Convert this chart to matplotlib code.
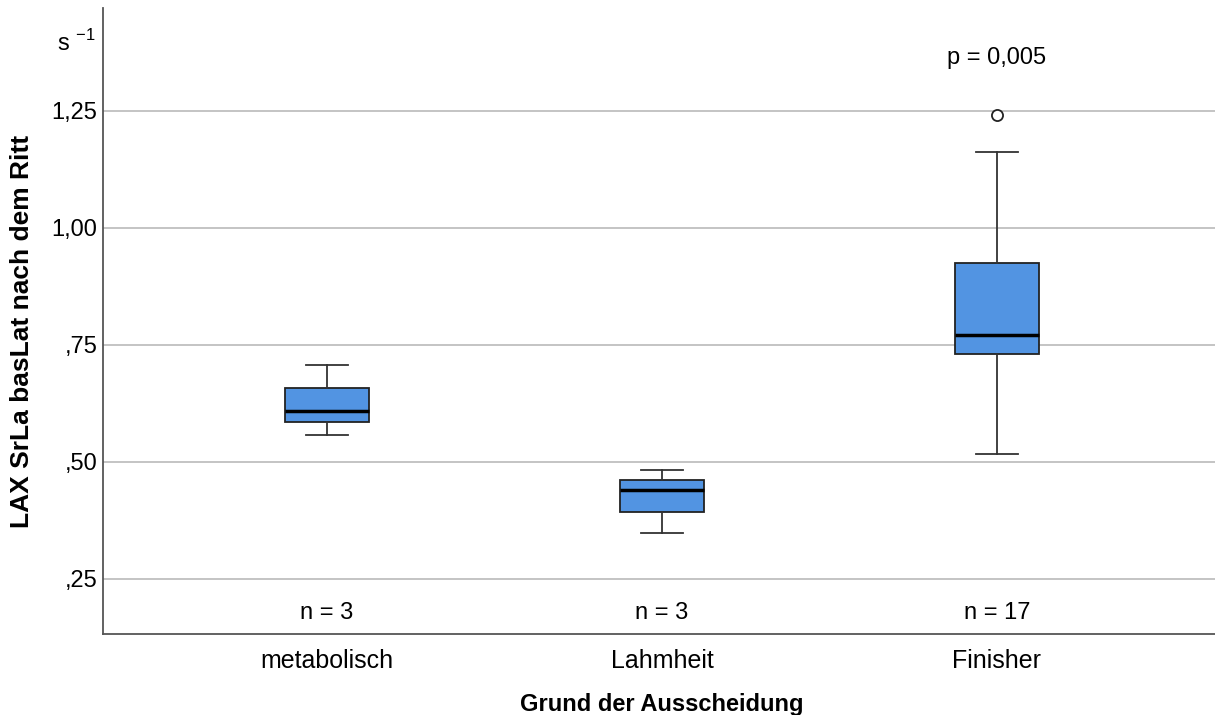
import matplotlib.pyplot as plt

plt.rcParams['font.family'] = ['Liberation Sans', 'DejaVu Sans']
plt.rcParams['mathtext.fontset'] = 'custom'
plt.rcParams['mathtext.rm'] = 'Liberation Sans'

groups = ['metabolisch', 'Lahmheit', 'Finisher']
n_counts = [3, 3, 17]
whislo = [0.558, 0.348, 0.517]
q1 = [0.585, 0.393, 0.731]
med = [0.609, 0.440, 0.771]
q3 = [0.658, 0.462, 0.925]
whishi = [0.707, 0.483, 1.162]
fliers = [[], [], [1.241]]

yticks = [0.25, 0.50, 0.75, 1.00, 1.25]
ytick_labels = [',25', ',50', ',75', '1,00', '1,25']

stats = []
for i, g in enumerate(groups):
    stats.append(dict(label=g, whislo=whislo[i], q1=q1[i], med=med[i],
                      q3=q3[i], whishi=whishi[i], fliers=fliers[i]))

fig = plt.figure(figsize=(12.15, 7.15), dpi=100)
ax = fig.add_axes([0.0848, 0.1133, 0.915, 0.8755])

pos = [1, 2, 3]
ax.bxp(stats, positions=pos, widths=0.25, patch_artist=True,
       boxprops=dict(facecolor='#5294e2', edgecolor='#222222', linewidth=1.3),
       medianprops=dict(color='black', linewidth=2.5),
       whiskerprops=dict(color='#333333', linewidth=1.3),
       capprops=dict(color='#333333', linewidth=1.3),
       capwidths=0.125,
       flierprops=dict(marker='o', markerfacecolor='white', markeredgecolor='#222222',
                       markersize=8, markeredgewidth=1.3),
       zorder=3)

ax.set_xlim(0.331, 3.651)
ax.set_ylim(0.1325, 1.470)
ax.set_yticks(yticks)
ax.set_yticklabels(ytick_labels, fontsize=17)
ax.set_xticks(pos)
ax.set_xticklabels(groups, fontsize=18)
ax.tick_params(axis='y', length=0, pad=4)
ax.tick_params(axis='x', length=0, pad=11)
ax.yaxis.grid(True, color='#c4c4c4', linewidth=1.4)
ax.set_axisbelow(True)

for s in ['top', 'right']:
    ax.spines[s].set_visible(False)
for s in ['left', 'bottom']:
    ax.spines[s].set_color('#555555')
    ax.spines[s].set_linewidth(1.3)

for p, n in zip(pos, n_counts):
    ax.text(p, 0.178, f'n = {n}', ha='center', va='center', fontsize=17)

ax.text(3, 1.363, 'p = 0,005', ha='center', va='center', fontsize=17)
ax.text(-0.007, 1.395, r's $^{-1}$', transform=ax.get_yaxis_transform(),
        ha='right', va='center', fontsize=17)

# axis titles placed in figure coordinates
fig.text(0.018, 0.537, 'LAX SrLa basLat nach dem Ritt', rotation=90,
         ha='center', va='center', fontsize=19, fontweight='bold')
fig.text(0.0848 + 0.915 * (2 - 0.331) / (3.651 - 0.331), 0.015, 'Grund der Ausscheidung',
         ha='center', va='center', fontsize=17, fontweight='bold')

fig.savefig('out.png', dpi=100)
